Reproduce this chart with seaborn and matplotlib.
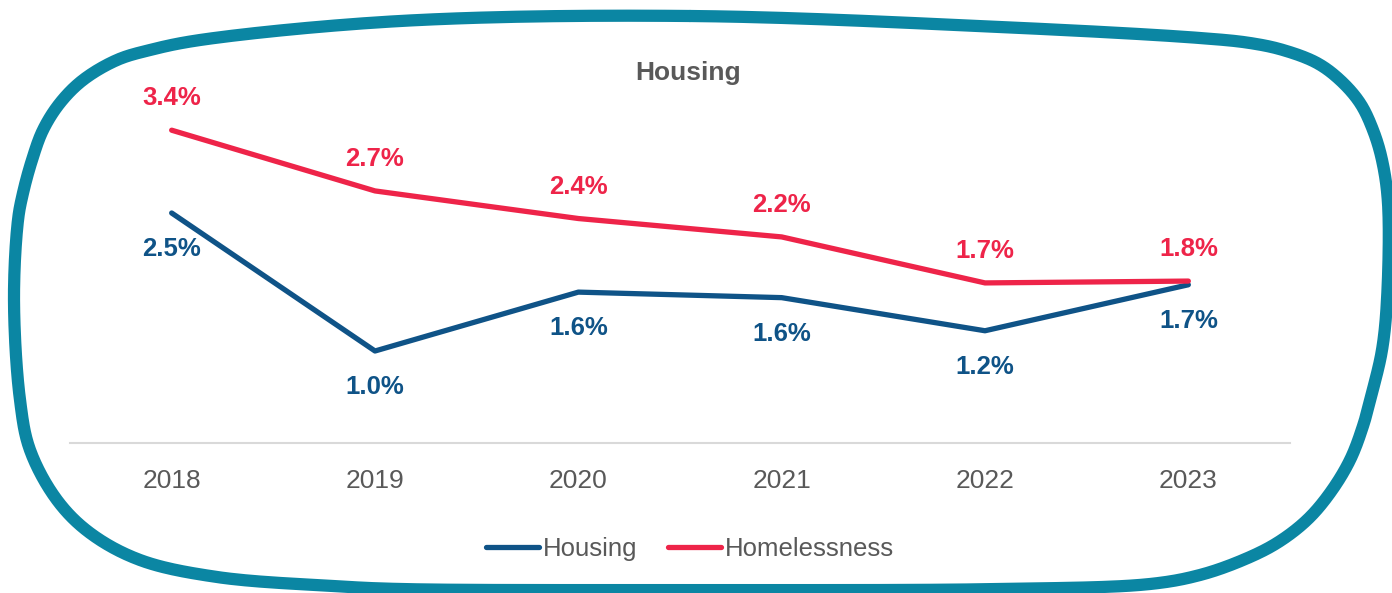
import numpy as np
import pandas as pd
import matplotlib
matplotlib.use("Agg")
import matplotlib.pyplot as plt
from matplotlib.lines import Line2D
import seaborn as sns

# Annual change, percent
years = [2018, 2019, 2020, 2021, 2022, 2023]
housing = [2.5, 1.0, 1.64, 1.58, 1.22, 1.72]
homelessness = [3.4, 2.74, 2.44, 2.24, 1.74, 1.76]
series_names = ["Housing", "Homelessness"]
series_colors = ["#0F5387", "#EE2449"]
title_text = "Housing"

sns.set_theme(style="white")
plt.rcParams["font.family"] = ["Liberation Sans Narrow", "Liberation Sans", "DejaVu Sans"]

df = pd.DataFrame({
    "year": years * 2,
    "value": housing + homelessness,
    "series": [series_names[0]] * len(years) + [series_names[1]] * len(years),
})

W, H = 1392, 593
fig = plt.figure(figsize=(W / 100, H / 100), dpi=100)
ax = fig.add_axes([70 / W, 1 - 443 / H, 1220 / W, 368 / H])

sns.lineplot(data=df, x="year", y="value", hue="series",
             palette=dict(zip(series_names, series_colors)),
             linewidth=3.8, ax=ax, legend=False, sort=False)
for ln in ax.lines:
    ln.set_solid_capstyle("round")
    ln.set_solid_joinstyle("round")

ax.set_xlim(2017.5, 2023.5)
ax.set_ylim(0, 4)
ax.set_xticks(years)
ax.set_xticklabels([str(y) for y in years], fontsize=19, color="#595959")
ax.set_yticks([])
ax.set_xlabel("")
ax.set_ylabel("")
for side in ["top", "right", "left"]:
    ax.spines[side].set_visible(False)
ax.spines["bottom"].set_color("#D9D9D9")
ax.spines["bottom"].set_linewidth(1.5)
ax.tick_params(axis="x", length=0, pad=19)
ax.patch.set_alpha(0)

# Value labels: housing below the line, homelessness above
for x, v in zip(years, housing):
    ax.annotate(f"{v:.1f}%", (x, v), xytext=(0, -26), textcoords="offset points",
                ha="center", va="center", fontsize=18.5, fontweight="bold",
                color=series_colors[0])
for x, v in zip(years, homelessness):
    ax.annotate(f"{v:.1f}%", (x, v), xytext=(0, 23), textcoords="offset points",
                ha="center", va="center", fontsize=18.5, fontweight="bold",
                color=series_colors[1])

fig.text(688 / W, 1 - 73 / H, title_text, ha="center", va="center",
         fontsize=19, fontweight="bold", color="#595959",
         family=["Liberation Sans", "DejaVu Sans"])

handles = [Line2D([], [], color=c, linewidth=3.8, solid_capstyle="round")
           for c in series_colors]
fig.legend(handles, series_names, loc="center", bbox_to_anchor=(690 / W, 1 - 549 / H),
           ncol=2, frameon=False, fontsize=18.5, handlelength=2.05,
           handletextpad=0.15, columnspacing=1.2, labelcolor="#595959")

# Hand-drawn style rounded outline around the chart (pixel coordinates, y down)
outline = np.array([
    (690, 16), (1000, 27), (1200, 38), (1250, 43), (1283, 50), (1317, 63),
    (1340, 80), (1360, 103), (1373, 130), (1382, 160), (1388, 203),
    (1387, 300), (1382, 350), (1372, 393), (1363, 426), (1350, 460),
    (1330, 493), (1307, 520), (1277, 543), (1243, 560), (1200, 575),
    (1150, 584), (1000, 589), (690, 590), (400, 589), (333, 586),
    (217, 577), (140, 560), (90, 533), (57, 500), (30, 450), (20, 400),
    (14, 300), (18, 220), (23, 193), (32, 160), (43, 130), (60, 103),
    (83, 80), (117, 60), (150, 50), (200, 40), (400, 21),
], dtype=float)


def centripetal_segment(p0, p1, p2, p3, n=24):
    def knot(t, a, b):
        return t + max(np.linalg.norm(b - a), 1e-6) ** 0.5
    t0 = 0.0
    t1 = knot(t0, p0, p1)
    t2 = knot(t1, p1, p2)
    t3 = knot(t2, p2, p3)
    t = np.linspace(t1, t2, n, endpoint=False)[:, None]
    a1 = (t1 - t) / (t1 - t0) * p0 + (t - t0) / (t1 - t0) * p1
    a2 = (t2 - t) / (t2 - t1) * p1 + (t - t1) / (t2 - t1) * p2
    a3 = (t3 - t) / (t3 - t2) * p2 + (t - t2) / (t3 - t2) * p3
    b1 = (t2 - t) / (t2 - t0) * a1 + (t - t0) / (t2 - t0) * a2
    b2 = (t3 - t) / (t3 - t1) * a2 + (t - t1) / (t3 - t1) * a3
    return (t2 - t) / (t2 - t1) * b1 + (t - t1) / (t2 - t1) * b2


n = len(outline)
curve = np.vstack([
    centripetal_segment(outline[i - 1], outline[i], outline[(i + 1) % n], outline[(i + 2) % n])
    for i in range(n)
])
curve = np.vstack([curve, curve[:1]])
fig.add_artist(Line2D(curve[:, 0] / W, 1 - curve[:, 1] / H, transform=fig.transFigure,
                      color="#0B86A3", linewidth=8.8, solid_joinstyle="round"))

fig.savefig("out.png", dpi=100)
